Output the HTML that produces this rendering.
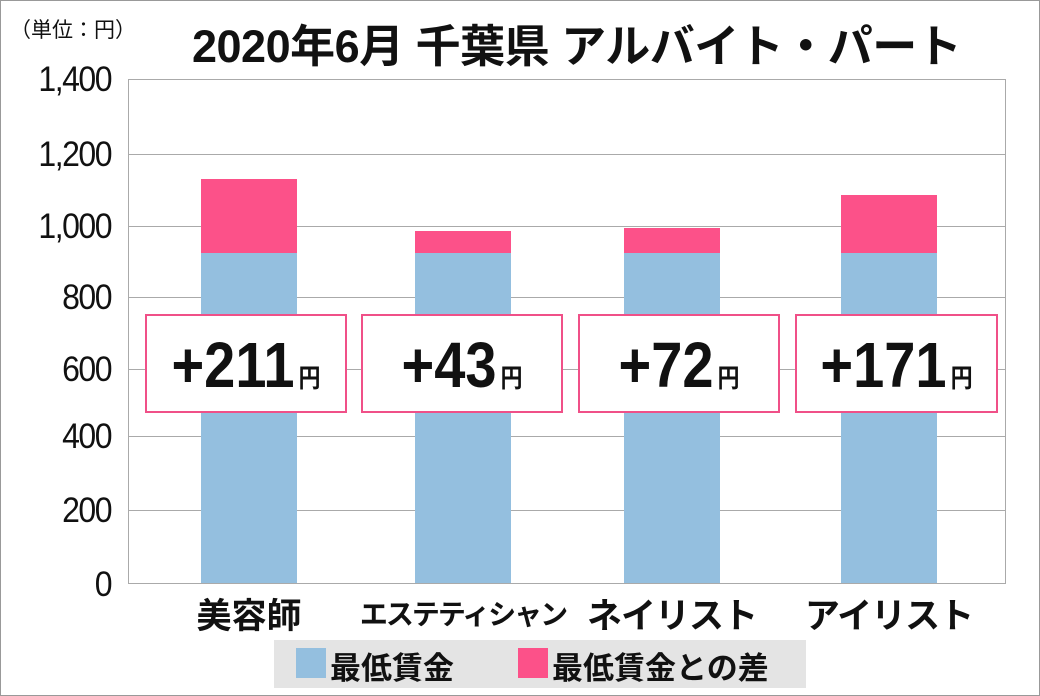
<!DOCTYPE html>
<html><head><meta charset="utf-8"><style>
body{margin:0;width:1040px;height:696px;background:#fff;position:relative;overflow:hidden;font-family:"Liberation Sans","Noto Sans CJK JP",sans-serif}
.a{position:absolute}
.g{position:absolute;left:128px;width:878px;height:1px;background:#aaa}
.yl{position:absolute;right:929px;font-size:32px;color:#111;line-height:32px;letter-spacing:-1.5px;transform:scaleY(1.1)}
.bar{position:absolute;width:96px}
.b{background:#94bfdf}.p{background:#fc5189}
.box{position:absolute;top:314px;height:99px;border:2px solid #f05088;background:#fff;box-sizing:border-box;text-align:center;line-height:100px;font-weight:bold;font-size:56px;color:#111;white-space:nowrap}
.box span{display:inline-block;transform:scaleY(1.15)}
.box small{font-size:22px;margin-left:4px}
.xl{position:absolute;top:588px;font-size:35px;font-weight:bold;text-align:center;width:240px;color:#111;white-space:nowrap}
</style></head><body>
<div class="a" style="left:0;top:0;width:1038px;height:694px;border:1px solid #999"></div>
<div class="a" style="left:10px;top:14px;font-size:21px;color:#111">（単位：円）</div>
<div class="a" style="left:192px;top:10px;font-size:45px;font-weight:bold;color:#111;letter-spacing:-0.5px;white-space:nowrap">2020年6月 千葉県 アルバイト・パート</div>
<div class="g" style="top:79px"></div><div class="g" style="top:154px"></div><div class="g" style="top:226px"></div><div class="g" style="top:297px"></div><div class="g" style="top:369px"></div><div class="g" style="top:436px"></div><div class="g" style="top:510px"></div><div class="g" style="top:583px"></div>
<div class="a" style="left:128px;top:79px;width:1px;height:505px;background:#aaa"></div>
<div class="a" style="left:1005px;top:79px;width:1px;height:505px;background:#aaa"></div>
<div class="yl" style="top:63px">1,400</div><div class="yl" style="top:138px">1,200</div><div class="yl" style="top:210px">1,000</div><div class="yl" style="top:281px">800</div><div class="yl" style="top:353px">600</div><div class="yl" style="top:420px">400</div><div class="yl" style="top:494px">200</div><div class="yl" style="top:568px">0</div>
<div class="bar p" style="left:201px;top:179px;height:74px"></div><div class="bar b" style="left:201px;top:253px;height:330px"></div>
<div class="bar p" style="left:415px;top:231px;height:22px"></div><div class="bar b" style="left:415px;top:253px;height:330px"></div>
<div class="bar p" style="left:624px;top:228px;height:25px"></div><div class="bar b" style="left:624px;top:253px;height:330px"></div>
<div class="bar p" style="left:841px;top:195px;height:58px"></div><div class="bar b" style="left:841px;top:253px;height:330px"></div>
<div class="box" style="left:145px;width:202px"><span>+211<small>円</small></span></div>
<div class="box" style="left:361px;width:202px"><span>+43<small>円</small></span></div>
<div class="box" style="left:578px;width:202px"><span>+72<small>円</small></span></div>
<div class="box" style="left:795px;width:203px"><span>+171<small>円</small></span></div>
<div class="xl" style="left:129px">美容師</div>
<div class="xl" style="left:343px;font-size:28px;top:593px;letter-spacing:-2px">エステティシャン</div>
<div class="xl" style="left:552px;letter-spacing:-1px">ネイリスト</div>
<div class="xl" style="left:769px;letter-spacing:-1px">アイリスト</div>
<div class="a" style="left:274px;top:640px;width:532px;height:48px;background:#e4e4e4"></div>
<div class="a" style="left:296px;top:648px;width:30px;height:30px;background:#94bfdf"></div>
<div class="a" style="left:330px;top:643px;font-size:31px;font-weight:bold;color:#111">最低賃金</div>
<div class="a" style="left:518px;top:648px;width:30px;height:30px;background:#fc5189"></div>
<div class="a" style="left:552px;top:643px;font-size:31px;font-weight:bold;color:#111">最低賃金との差</div>
</body></html>
